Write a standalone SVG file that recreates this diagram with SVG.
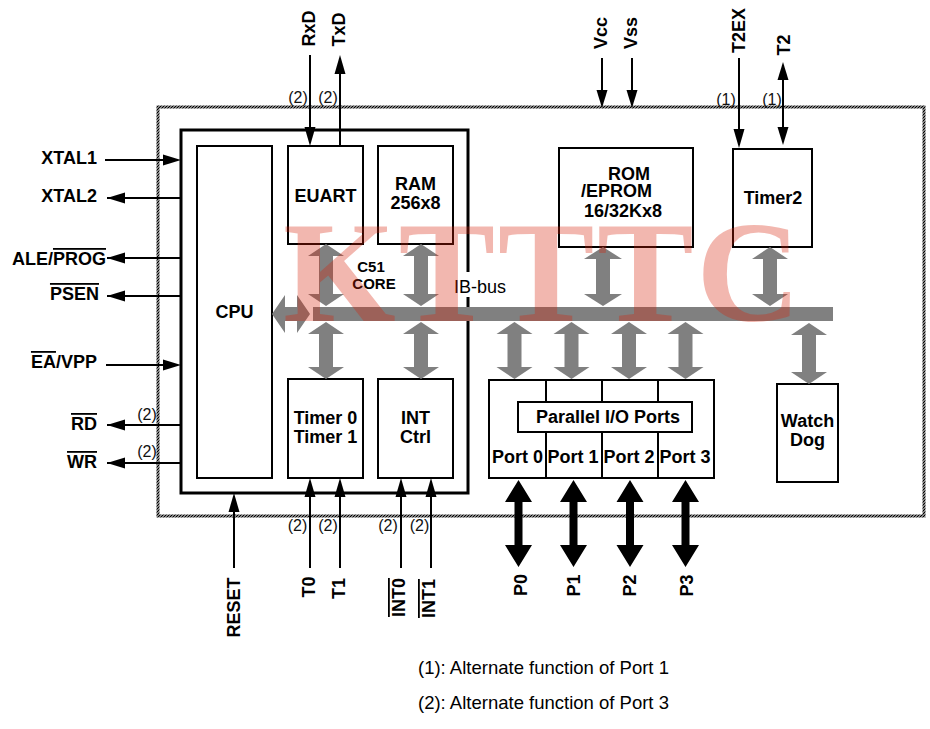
<svg xmlns="http://www.w3.org/2000/svg" width="930" height="729" viewBox="0 0 930 729">
<defs>
<pattern id="hatch" patternUnits="userSpaceOnUse" width="3" height="3">
<path d="M-1,1 L1,-1 M0,3 L3,0 M2,4 L4,2" stroke="#000" stroke-width="1.4"/>
</pattern>
<style>
.box{fill:#fff;stroke:#000;stroke-width:2}
.lbl{font-family:"Liberation Sans",Arial,sans-serif;font-size:18px;font-weight:bold;fill:#000}
.sm{font-family:"Liberation Sans",Arial,sans-serif;font-size:16px;fill:#111}
.reg{font-family:"Liberation Sans",Arial,sans-serif;font-size:18px;fill:#000}
.ln{stroke:#000;stroke-width:2;fill:none}
.hd{fill:#000}
.ga{fill:#808080}
.ov{text-decoration:overline}
.wm{font-family:"Liberation Serif","Times New Roman",serif;font-size:145px;font-weight:bold;fill:#d81e06;fill-opacity:0.32}
</style>
</defs>
<rect width="930" height="729" fill="#fff"/>

<g id="chip-border">
<rect x="158" y="107" width="766" height="409" fill="none" stroke="url(#hatch)" stroke-width="3"/>
</g>

<g id="core">
<rect x="181" y="130" width="287" height="363" fill="none" stroke="#000" stroke-width="3"/>
<rect x="465" y="272" width="6" height="25" fill="#fff"/>
<text class="lbl" x="371" y="272" text-anchor="middle" style="font-size:15px">C51</text>
<text class="lbl" x="374" y="289" text-anchor="middle" style="font-size:15px">CORE</text>
</g>

<g id="cpu"><rect class="box" x="197" y="146" width="75" height="332"/><text class="lbl" x="234.5" y="318" text-anchor="middle">CPU</text></g>
<g id="euart"><rect class="box" x="288" y="146" width="75" height="98"/><text class="lbl" x="325.5" y="202" text-anchor="middle">EUART</text></g>
<g id="ram"><rect class="box" x="378" y="146" width="75" height="98"/><text class="lbl" x="415.5" y="190" text-anchor="middle">RAM</text><text class="lbl" x="415.5" y="209" text-anchor="middle">256x8</text></g>
<g id="timer01"><rect class="box" x="288" y="379" width="75" height="99"/><text class="lbl" x="325.5" y="424" text-anchor="middle">Timer 0</text><text class="lbl" x="325.5" y="443" text-anchor="middle">Timer 1</text></g>
<g id="intctrl"><rect class="box" x="378" y="379" width="75" height="99"/><text class="lbl" x="415.5" y="424" text-anchor="middle">INT</text><text class="lbl" x="415.5" y="443" text-anchor="middle">Ctrl</text></g>
<g id="rom"><rect class="box" x="559" y="148" width="134" height="99"/><text class="lbl" x="608" y="180">ROM</text><text class="lbl" x="581" y="197">/EPROM</text><text class="lbl" x="584" y="217">16/32Kx8</text></g>
<g id="timer2"><rect class="box" x="733" y="149" width="79" height="98"/><text class="lbl" x="773" y="204" text-anchor="middle">Timer2</text></g>
<g id="ports">
<rect class="box" x="489" y="380" width="225" height="98"/>
<path class="ln" d="M546,380V402M602,380V402M658,380V402M546,432V478M602,432V478M658,432V478"/>
<rect class="box" x="518" y="402" width="174" height="30"/>
<text class="lbl" x="608" y="423" text-anchor="middle">Parallel I/O Ports</text>
<text class="lbl" x="517.5" y="463" text-anchor="middle">Port 0</text>
<text class="lbl" x="573" y="463" text-anchor="middle">Port 1</text>
<text class="lbl" x="629" y="463" text-anchor="middle">Port 2</text>
<text class="lbl" x="685" y="463" text-anchor="middle">Port 3</text>
</g>
<g id="watchdog"><rect class="box" x="777" y="384" width="61" height="98"/><text class="lbl" x="807.5" y="427" text-anchor="middle">Watch</text><text class="lbl" x="807.5" y="446" text-anchor="middle">Dog</text></g>

<g id="ib-bus">
<rect class="ga" x="313" y="307" width="520" height="14"/>
<polygon class="ga" points="272,314 285,295 285,307 297,307 297,295 310,314 297,333 297,321 285,321 285,333"/>
<polygon class="ga" points="326,244 344,256 333,256 333,294 344,294 326,306 308,294 319,294 319,256 308,256"/>
<polygon class="ga" points="421,244 439,256 428,256 428,294 439,294 421,306 403,294 414,294 414,256 403,256"/>
<polygon class="ga" points="326,322 344,334 333,334 333,367 344,367 326,379 308,367 319,367 319,334 308,334"/>
<polygon class="ga" points="421,322 439,334 428,334 428,367 439,367 421,379 403,367 414,367 414,334 403,334"/>
<polygon class="ga" points="603,247 622,259 610,259 610,294 622,294 603,306 584,294 596,294 596,259 584,259"/>
<polygon class="ga" points="770,247 788,259 777,259 777,294 788,294 770,306 752,294 763,294 763,259 752,259"/>
<polygon class="ga" points="514.5,322 532.5,334 521.5,334 521.5,367 532.5,367 514.5,379 496.5,367 507.5,367 507.5,334 496.5,334"/>
<polygon class="ga" points="571.5,322 589.5,334 578.5,334 578.5,367 589.5,367 571.5,379 553.5,367 564.5,367 564.5,334 553.5,334"/>
<polygon class="ga" points="629,322 647,334 636,334 636,367 647,367 629,379 611,367 622,367 622,334 611,334"/>
<polygon class="ga" points="685.5,322 703.5,334 692.5,334 692.5,367 703.5,367 685.5,379 667.5,367 678.5,367 678.5,334 667.5,334"/>
<polygon class="ga" points="809,323 827,335 816,335 816,372 827,372 809,384 791,372 802,372 802,335 791,335"/>
<text class="reg" x="454" y="293">IB-bus</text>
</g>

<g id="connectors">
<path class="ln" d="M105,160H165M107,198H181M107,258H181M107,296H181M106,365H165M107,425H181M107,463H181"/>
<polygon class="hd" points="163,154.5 181,160 163,165.5"/>
<polygon class="hd" points="163,359.5 181,365 163,370.5"/>
<polygon class="hd" points="107,198 125,192.5 125,203.5"/>
<polygon class="hd" points="107,258 125,252.5 125,263.5"/>
<polygon class="hd" points="107,296 125,290.5 125,301.5"/>
<polygon class="hd" points="107,425 125,419.5 125,430.5"/>
<polygon class="hd" points="107,463 125,457.5 125,468.5"/>
<path class="ln" d="M310,55V130M340,146V72M602,58V92M632,58V92M739,58V130M783,78V128"/>
<polygon class="hd" points="304.5,127 315.5,127 310,146"/>
<polygon class="hd" points="334.5,74 345.5,74 340,55"/>
<polygon class="hd" points="596.5,90 607.5,90 602,108"/>
<polygon class="hd" points="626.5,90 637.5,90 632,108"/>
<polygon class="hd" points="733.5,129 744.5,129 739,148"/>
<polygon class="hd" points="777.5,80 788.5,80 783,62"/>
<polygon class="hd" points="777.5,127 788.5,127 783,145"/>
<path class="ln" d="M234,568V510M310,568V495M340,568V495M401,568V495M431,568V495"/>
<polygon class="hd" points="228.5,512 239.5,512 234,493"/>
<polygon class="hd" points="304.5,497 315.5,497 310,478"/>
<polygon class="hd" points="334.5,497 345.5,497 340,478"/>
<polygon class="hd" points="395.5,497 406.5,497 401,478"/>
<polygon class="hd" points="425.5,497 436.5,497 431,478"/>
<polygon class="hd" points="518.5,480 532,502 522.5,502 522.5,545 532,545 518.5,567 505,545 514.5,545 514.5,502 505,502"/>
<polygon class="hd" points="573.5,480 587,502 577.5,502 577.5,545 587,545 573.5,567 560,545 569.5,545 569.5,502 560,502"/>
<polygon class="hd" points="630,480 643.5,502 634,502 634,545 643.5,545 630,567 616.5,545 626,545 626,502 616.5,502"/>
<polygon class="hd" points="685.5,480 699,502 689.5,502 689.5,545 699,545 685.5,567 672,545 681.5,545 681.5,502 672,502"/>
</g>

<g id="pin-labels">
<text class="lbl" x="97" y="164" text-anchor="end">XTAL1</text>
<text class="lbl" x="97" y="202" text-anchor="end">XTAL2</text>
<text class="lbl" x="106" y="265" text-anchor="end">ALE/<tspan class="ov">PROG</tspan></text>
<text class="lbl" x="99" y="300" text-anchor="end"><tspan class="ov">PSEN</tspan></text>
<text class="lbl" x="97" y="368" text-anchor="end"><tspan class="ov">EA</tspan>/VPP</text>
<text class="lbl" x="97" y="430" text-anchor="end"><tspan class="ov">RD</tspan></text>
<text class="lbl" x="97" y="468" text-anchor="end"><tspan class="ov">WR</tspan></text>
<text class="sm" x="147" y="420" text-anchor="middle">(2)</text>
<text class="sm" x="147" y="457" text-anchor="middle">(2)</text>

<text class="lbl" transform="translate(315,28.5) rotate(-90)" text-anchor="middle">RxD</text>
<text class="lbl" transform="translate(345,29.5) rotate(-90)" text-anchor="middle">TxD</text>
<text class="lbl" transform="translate(607,33) rotate(-90)" text-anchor="middle">Vcc</text>
<text class="lbl" transform="translate(637,33) rotate(-90)" text-anchor="middle">Vss</text>
<text class="lbl" transform="translate(745,30.5) rotate(-90)" text-anchor="middle">T2EX</text>
<text class="lbl" transform="translate(790,45) rotate(-90)" text-anchor="middle">T2</text>
<text class="sm" x="298" y="103" text-anchor="middle">(2)</text>
<text class="sm" x="328" y="103" text-anchor="middle">(2)</text>
<text class="sm" x="726" y="105" text-anchor="middle">(1)</text>
<text class="sm" x="772" y="105" text-anchor="middle">(1)</text>

<text class="lbl" transform="translate(240,607.5) rotate(-90)" text-anchor="middle">RESET</text>
<text class="lbl" transform="translate(315,587) rotate(-90)" text-anchor="middle">T0</text>
<text class="lbl" transform="translate(345,588.5) rotate(-90)" text-anchor="middle">T1</text>
<text class="lbl" transform="translate(405,597.5) rotate(-90)" text-anchor="middle"><tspan class="ov">INT0</tspan></text>
<text class="lbl" transform="translate(435,598.5) rotate(-90)" text-anchor="middle"><tspan class="ov">INT1</tspan></text>
<text class="sm" x="297.5" y="531" text-anchor="middle">(2)</text>
<text class="sm" x="328" y="531" text-anchor="middle">(2)</text>
<text class="sm" x="388" y="531" text-anchor="middle">(2)</text>
<text class="sm" x="419.5" y="531" text-anchor="middle">(2)</text>

<text class="lbl" transform="translate(527,585) rotate(-90)" text-anchor="middle">P0</text>
<text class="lbl" transform="translate(580,585.5) rotate(-90)" text-anchor="middle">P1</text>
<text class="lbl" transform="translate(636,585.5) rotate(-90)" text-anchor="middle">P2</text>
<text class="lbl" transform="translate(693,585.5) rotate(-90)" text-anchor="middle">P3</text>
</g>

<g id="notes">
<text class="reg" x="418" y="674" style="font-size:18.5px">(1): Alternate function of Port 1</text>
<text class="reg" x="418" y="709" style="font-size:18.5px">(2): Alternate function of Port 3</text>
</g>

<g id="watermark">
<text class="wm" x="283" y="321" textLength="518" lengthAdjust="spacing">KTTTC</text>
</g>
</svg>
